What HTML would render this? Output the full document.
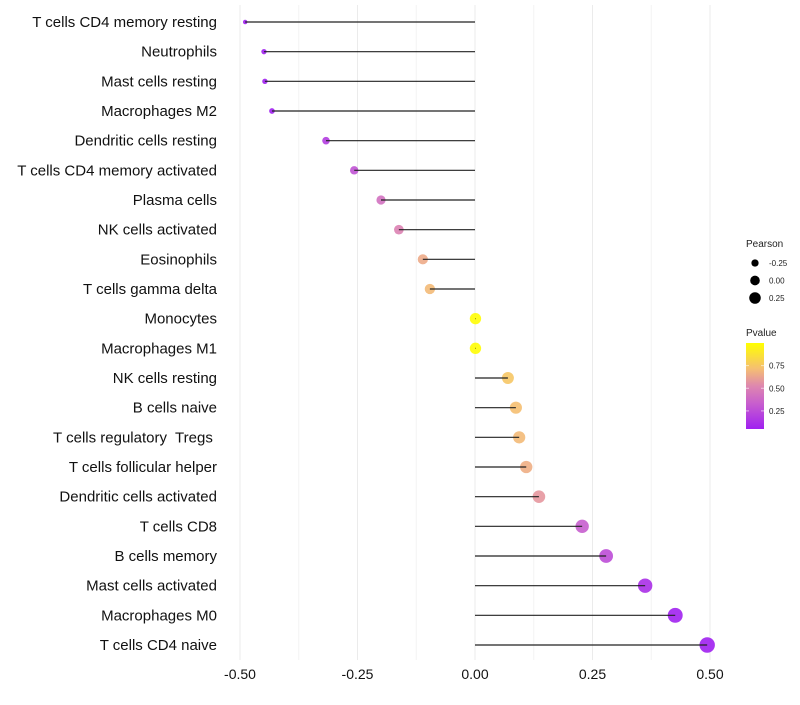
<!DOCTYPE html>
<html><head><meta charset="utf-8"><style>
body{margin:0;background:#fff;font-family:"Liberation Sans",sans-serif}
text{white-space:pre}
</style></head><body>
<svg id="chart" width="800" height="700" xmlns="http://www.w3.org/2000/svg"></svg>
<script>
const categories=["T cells CD4 memory resting","Neutrophils","Mast cells resting","Macrophages M2","Dendritic cells resting","T cells CD4 memory activated","Plasma cells","NK cells activated","Eosinophils","T cells gamma delta","Monocytes","Macrophages M1","NK cells resting","B cells naive","T cells regulatory  Tregs ","T cells follicular helper","Dendritic cells activated","T cells CD8","B cells memory","Mast cells activated","Macrophages M0","T cells CD4 naive"];
const pearson=[-0.489,-0.449,-0.447,-0.432,-0.317,-0.257,-0.200,-0.162,-0.111,-0.096,0.001,0.001,0.070,0.087,0.094,0.109,0.136,0.228,0.279,0.362,0.426,0.494];
const pvalue=[0.02,0.03,0.03,0.04,0.18,0.28,0.42,0.5,0.65,0.7,0.99,0.99,0.75,0.72,0.70,0.66,0.58,0.33,0.25,0.12,0.06,0.02];
const xTicks=[-0.5,-0.25,0,0.25,0.5];
const xTickLabels=["-0.50","-0.25","0.00","0.25","0.50"];
const sizeLegend=[-0.25,0,0.25];
const colorTicks=[0.25,0.5,0.75];

const svg=document.getElementById('chart');
const NS='http://www.w3.org/2000/svg';
function mk(t,a,p){const e=document.createElementNS(NS,t);for(const k in a)e.setAttribute(k,a[k]);(p||svg).appendChild(e);return e;}
const x=v=>475+v*470;
const y=i=>22+i*(623/21);
const rad=v=>1.1*Math.sqrt(Math.max(1,26.5+45.9*v));
function col(p){const t=(p-0.05)/0.95;const s=[[0,[160,32,240]],[0.3,[200,95,205]],[0.5,[222,135,175]],[0.7,[245,190,115]],[1,[255,255,0]]];
for(let k=1;k<s.length;k++){if(t<=s[k][0]||k==s.length-1){const a=s[k-1],b=s[k];const f=Math.min(1,Math.max(0,(t-a[0])/(b[0]-a[0])));return 'rgb('+a[1].map((c,j)=>Math.round(c+(b[1][j]-c)*f)).join(',')+')';}}}
// grid
for(let v=-0.5;v<=0.501;v+=0.125){const g=mk('line',{x1:x(v),x2:x(v),y1:5,y2:660,stroke:Math.abs((v*4)%1)<0.01?'#ebebeb':'#f3f3f3','stroke-width':1});

}
xTicks.forEach((v,i)=>{const t=mk('text',{x:x(v),y:679,'text-anchor':'middle','font-size':14,fill:'#111'});t.textContent=xTickLabels[i];

});
categories.forEach((c,i)=>{
const t=mk('text',{x:217,y:y(i)+5,'text-anchor':'end','font-size':15,fill:'#111'});t.textContent=c;


const d=mk('circle',{cx:x(pearson[i]),cy:y(i),r:rad(pearson[i]),fill:col(pvalue[i]),'fill-opacity':0.9});


const l=mk('line',{x1:x(0),x2:x(pearson[i]),y1:y(i),y2:y(i),stroke:'#222','stroke-width':1.2});


});
// legends
let t=mk('text',{x:746,y:247,'font-size':10,fill:'#222'});t.textContent='Pearson';


sizeLegend.forEach((v,i)=>{const cy=263+i*17.5;
const c=mk('circle',{cx:755,cy:cy,r:rad(v)*0.85,fill:'#000'});


const l=mk('text',{x:769,y:cy+3,'font-size':8,fill:'#222'});l.textContent=v.toFixed(2);

});
t=mk('text',{x:746,y:336,'font-size':10,fill:'#222'});t.textContent='Pvalue';


const defs=mk('defs',{});const gr=mk('linearGradient',{id:'g',x1:0,y1:1,x2:0,y2:0},defs);
[0,0.15,0.3,0.5,0.7,0.85,1].forEach(f=>mk('stop',{offset:f,'stop-color':col(0.05+f*0.95)},gr));
const bar=mk('rect',{x:746,y:343,width:18,height:86,fill:'url(#g)'});


colorTicks.forEach(v=>{const cy=429-(v-0.05)/0.95*86;
mk('line',{x1:746,x2:749,y1:cy,y2:cy,stroke:'#fff','stroke-opacity':0.6});mk('line',{x1:761,x2:764,y1:cy,y2:cy,stroke:'#fff','stroke-opacity':0.6});
const l=mk('text',{x:769,y:cy+3,'font-size':8,fill:'#222'});l.textContent=v.toFixed(2);

});
</script>
</body></html>
